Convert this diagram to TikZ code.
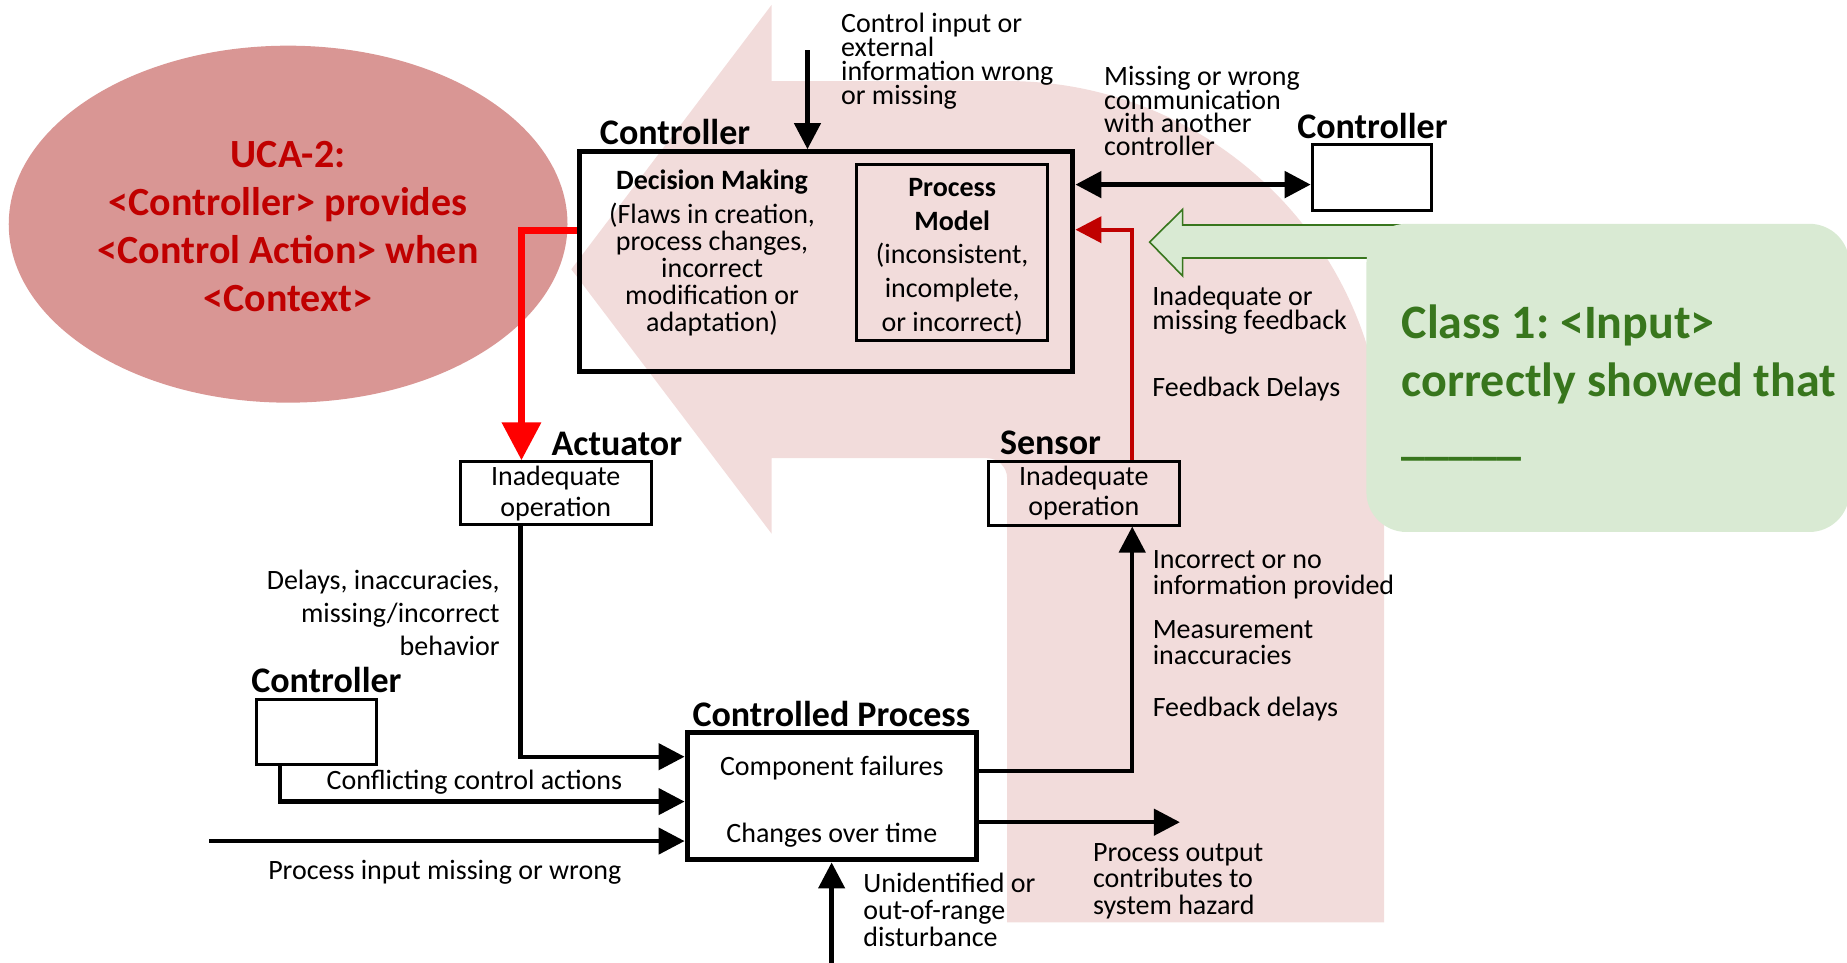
\documentclass[tikz,border=0pt]{standalone}
\usepackage{fontspec}
\setmainfont{Carlito}
\frenchspacing
\usetikzlibrary{arrows.meta,shapes.geometric}

\definecolor{loopfill}{RGB}{242,220,219}
\definecolor{ucafill}{RGB}{217,150,148}
\definecolor{ucaink}{RGB}{192,0,0}
\definecolor{classfill}{RGB}{217,234,211}
\definecolor{classink}{RGB}{56,118,29}
\definecolor{fbred}{RGB}{192,0,0}
\definecolor{actred}{RGB}{255,0,0}

\tikzset{
  note/.style={inner sep=0pt, text width=200pt, align=flush left, anchor=base west,
    font={\fontsize{14}{#1}\selectfont\lineskiplimit=-100pt}},
  note/.default=16,
  heading/.style={inner sep=0pt, anchor=base west,
    font={\bfseries\fontsize{18}{20}\selectfont}},
  boxtext/.style={align=center,
    font={\fontsize{14}{#1}\selectfont\lineskiplimit=-100pt}},
  heavybox/.style={draw, line width=2.5pt, inner sep=0pt},
  lightbox/.style={draw, line width=1.5pt, inner sep=0pt},
  flow/.style={line width=2.2pt, -{Triangle[length=13pt,width=13pt]}},
  twoway/.style={line width=2.5pt,
    {Triangle[length=13pt,width=13pt]}-{Triangle[length=13pt,width=13pt]}},
  ucaarrow/.style={draw=actred, line width=3.5pt, -{Triangle[length=19pt,width=19pt]}},
  fbarrow/.style={draw=fbred, line width=2pt, -{Triangle[length=13pt,width=13pt]}},
}

\begin{document}
\begin{tikzpicture}[x=0.589pt, y=-0.589pt]
\useasboundingbox (0,0) rectangle (1568,817);

% large pale U-turn arrow behind the control loop
\fill[loopfill] (485,228.6) -- (655,4.2) -- (655,68.8) -- (855,68.8)
  arc[start angle=-90, end angle=0, radius=320]
  -- (1175,783) -- (855,783) -- (855,406)
  arc[start angle=0, end angle=-90, radius=17]
  -- (655,389) -- (655,453) -- cycle;

% unsafe control action bubble
\node[ellipse, fill=ucafill, inner sep=0pt, minimum width=279.4pt, minimum height=178.5pt]
  (uca) at (244.6,190.3) {};
\node[inner sep=0pt, align=center, text=ucaink,
  font={\bfseries\fontsize{20}{24}\selectfont\lineskiplimit=-100pt}]
  (ucatext) at (244.6,192.5)
  {UCA-2:\\<Controller> provides\\<Control Action> when\\<Context>};

% hollow green arrow and causal-scenario box
\fill[classfill] (1200,191) -- (1004,191) -- (1004,177.7) -- (976,205.5)
  -- (1004,234.3) -- (1004,219) -- (1200,219) -- cycle;
\draw[classink, line width=0.8pt] (1200,191) -- (1004,191) -- (1004,177.7)
  -- (976,205.5) -- (1004,234.3) -- (1004,219) -- (1165,219);
\node[fill=classfill, rounded corners=20pt, inner sep=0pt,
  minimum width=241.5pt, minimum height=154.1pt] (cls) at (1365,320.8) {};
\node[inner sep=0pt, anchor=base west, text width=260pt, align=flush left, text=classink,
  font={\bfseries\fontsize{24}{29.2}\selectfont\lineskiplimit=-100pt}]
  (clslbl) at (1189.6,287) {Class 1: <Input>\\correctly showed that\\\_\_\_\_\_};

% boxes
\node[heavybox, minimum width=246.7pt, minimum height=109.7pt] (ctrl) at (701.45,221.9) {};
\node[lightbox, minimum width=95.8pt, minimum height=87.6pt] (pm) at (808.35,214.4) {};
\node[lightbox, minimum width=59.5pt, minimum height=32.7pt] (ctrlR) at (1164.5,150.55) {};
\node[lightbox, minimum width=95.8pt, minimum height=31.9pt, boxtext=15.3] (sens) at (920.1,418.65)
  {Inadequate\\operation};
\node[lightbox, minimum width=95.7pt, minimum height=31.6pt, boxtext=15.3] (act) at (471.8,418.85)
  {Inadequate\\operation};
\node[lightbox, minimum width=60.2pt, minimum height=32.5pt] (ctrlL) at (268.5,621) {};
\node[heavybox, minimum width=144.7pt, minimum height=63.8pt] (proc) at (706.15,675.85) {};

% texts inside the controller and the controlled process
\node[inner sep=0pt, anchor=base, font={\bfseries\fontsize{14}{16}\selectfont}] (dmt) at (604.5,161)
  {Decision Making};
\node[note=13.4, anchor=base, align=flush center, text width=150pt] (dmb) at (604.5,190)
  {(Flaws in creation,\\process changes,\\incorrect\\modification or\\adaptation)};
\node[note=16.8, anchor=base, align=flush center, text width=95pt] (pmtext) at (808.35,167)
  {\textbf{Process}\\\textbf{Model}\\(inconsistent,\\incomplete,\\or incorrect)};
\node[note=33.6, anchor=base, align=flush center, text width=140pt] (proctext) at (706.15,658)
  {Component failures\\Changes over time};

% headings
\node[heading] (hctrl) at (509,122.7) {Controller};
\node[heading] (hctrlR) at (1101,117.7) {Controller};
\node[heading] (hsens) at (848.6,385.6) {Sensor};
\node[heading] (hact) at (468,386.3) {Actuator};
\node[heading] (hctrlL) at (213,588.3) {Controller};
\node[heading] (hproc) at (587.6,616.7) {Controlled Process};

% labels
\node[note=12] (cinlbl) at (713.7,28) {Control input or\\external\\information wrong\\or missing};
\node[note=11.6] (comlbl) at (937,73) {Missing or wrong\\communication\\with another\\controller};
\node[note=12.4] (fblbl) at (978,259) {Inadequate or\\missing feedback};
\node[note] (fbdelay) at (978,337) {Feedback Delays};
\node[note=16.5, anchor=base east, align=flush right, text width=150pt] (actlbl) at (424.5,500.4)
  {Delays, inaccuracies,\\missing/incorrect\\behavior};
\node[note] (conflbl) at (277,670) {Conflicting control actions};
\node[note] (pinlbl) at (227.4,747) {Process input missing or wrong};
\node[note=13.5] (distlbl) at (732.6,758) {Unidentified or\\out-of-range\\disturbance};
\node[note=13.3] (poutlbl) at (927.6,731) {Process output\\contributes to\\system hazard};
\node[note=13] (senslblA) at (978.3,483) {Incorrect or no\\information provided};
\node[note=13] (senslblB) at (978.3,542) {Measurement\\inaccuracies};
\node[note] (senslblC) at (978.3,608) {Feedback delays};

% connectors
\coordinate (cinstart) at (685.5,42.5);
\draw[flow] (cinstart) -- (cinstart |- ctrl.north);

\coordinate (peery) at (1000,156.7);
\draw[twoway] (ctrl.east |- peery) -- (ctrlR.west |- peery);

\coordinate (ucabend) at (442.7,195.3);
\draw[ucaarrow] (ctrl.west |- ucabend) -- (ucabend) -- (ucabend |- act.north);

\coordinate (fbbend) at (961,195);
\draw[fbarrow] (fbbend |- sens.north) -- (fbbend) -- (ctrl.east |- fbbend);

\coordinate (actbend) at (441.8,642.4);
\draw[flow] (actbend |- act.south) -- (actbend) -- (proc.west |- actbend);

\coordinate (cfbend) at (237.7,680.5);
\draw[flow] (cfbend |- ctrlL.south) -- (cfbend) -- (proc.west |- cfbend);

\coordinate (pinstart) at (177.5,714);
\draw[flow] (pinstart) -- (proc.west |- pinstart);

\coordinate (diststart) at (706,822);
\draw[flow] (diststart) -- (diststart |- proc.south);

\coordinate (poutend) at (1001.7,698);
\draw[flow] (proc.east |- poutend) -- (poutend);

\coordinate (sensbend) at (961.2,654.3);
\draw[flow] (proc.east |- sensbend) -- (sensbend) -- (sensbend |- sens.south);
\end{tikzpicture}
\end{document}
